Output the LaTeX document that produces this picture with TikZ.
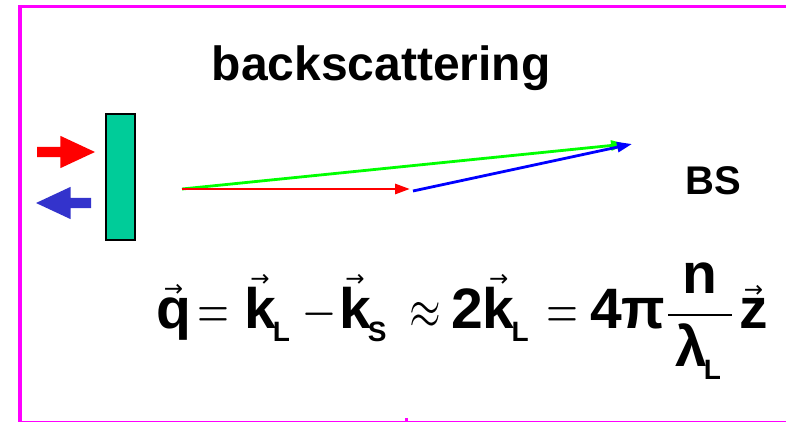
\documentclass[tikz,border=0pt]{standalone}
\usepackage{graphicx}
\usepackage{fontspec}
\setmainfont{Liberation Sans}
\newfontfamily\arrowfont{DejaVu Sans}
\newfontfamily\relfont{Latin Modern Math}
\usetikzlibrary{arrows.meta,shapes.arrows,positioning}

\definecolor{framemagenta}{RGB}{255,0,255}
\definecolor{plategreen}{RGB}{0,204,153}
\definecolor{pumpred}{RGB}{255,0,0}
\definecolor{returnblue}{RGB}{51,51,204}
\definecolor{kgreen}{RGB}{0,255,0}
\definecolor{kblue}{RGB}{0,0,255}

\newcommand\eqbold{\fontsize{57}{60}\selectfont\bfseries}
\newcommand\eqplain{\relfont\fontsize{57}{60}\selectfont}
% small arrow set over a letter
\newcommand\vecsym[1]{\setbox0\hbox{#1}\hbox to \wd0{\hss\raisebox{\dimexpr\ht0+0.5pt\relax}[0pt][0pt]{\arrowfont\mdseries\fontsize{23}{23}\selectfont →}\hss}\kern-\wd0\box0}
\newcommand\lowsub[1]{\kern-3pt\raisebox{-13pt}{\fontsize{28}{28}\selectfont\bfseries #1}}
\newcommand\thinrel[1]{\scalebox{0.72}[1]{#1}}

\begin{document}
\begin{tikzpicture}[x=1pt,y=-1pt,
    eqsym/.style={inner sep=0pt, anchor=base west, font=\eqbold},
    eqrel/.style={inner sep=0pt, anchor=base west, font=\eqplain},
    kvec/.style={line width=2.8pt, -{Triangle[length=15pt,width=10pt]}},
    blockarrow/.style={single arrow, inner xsep=0pt, inner ysep=5pt, outer sep=0pt,
        single arrow head extend=11pt, single arrow tip angle=50, anchor=tip}]
    \useasboundingbox (0,0) rectangle (786,422);

    % slide frame
    \fill[framemagenta] (18,5) rectangle (786,8.5);
    \fill[framemagenta] (18,5) rectangle (21.5,422);
    \fill[framemagenta] (18,420.5) rectangle (786,422);
    \fill[framemagenta] (404.5,417.5) rectangle (407.5,420.5);

    \node[inner sep=0pt, anchor=base west, font=\fontsize{48}{50}\selectfont\bfseries]
        (title) at (211.5,81) {backscattering};

    % sample and beams
    \node[draw=black, line width=2pt, fill=plategreen, minimum width=29pt, minimum height=126pt]
        (plate) at (120,177) {};
    \node[blockarrow, fill=pumpred, minimum height=58pt] (pump) at (95,152) {};
    \node[blockarrow, fill=returnblue, minimum height=55pt, shape border rotate=180]
        (back) at (36,203) {};

    % wave vectors
    \coordinate (origin) at (182,189);
    \coordinate (kL) at (410,189);
    \coordinate (kS) at (413,191);
    \coordinate (qtip) at (632,144);
    \coordinate (qtipg) at (626,144);
    \draw[kvec, kgreen] (origin) -- (qtipg);
    \draw[kvec, pumpred] (origin) -- (kL);
    \draw[kvec, kblue] (kS) -- (qtip);

    \node[inner sep=0pt, anchor=base west, font=\fontsize{40}{42}\selectfont\bfseries]
        (bs) at (685,194) {BS};

    % scattering vector
    \node[eqsym] (q) at (156,328) {\vecsym{q}};
    \node[eqrel] (eqa) at (197,328) {\thinrel{=}};
    \node[eqsym] (kl) at (244,328) {\vecsym{k}\lowsub{L}};
    \node[eqrel] (minus) at (303,328) {\thinrel{−}};
    \node[eqsym] (ks) at (339,328) {\vecsym{k}\lowsub{S}};
    \node[eqrel] (approx) at (409,328) {\thinrel{≈}};
    \node[eqsym] (twokl) at (451,328) {2\vecsym{k}\lowsub{L}};
    \node[eqrel] (eqb) at (546,328) {\thinrel{=}};
    \node[eqsym] (fourpi) at (590,328) {4π};
    \node[eqsym, anchor=base] (num) at (700,293) {n};
    \draw[line width=1.6pt] (668,315) -- (732,315);
    \node[eqsym] (den) at (675,366) {λ\lowsub{L}};
    \node[eqsym] (z) at (739,328) {\vecsym{z}};
\end{tikzpicture}
\end{document}
